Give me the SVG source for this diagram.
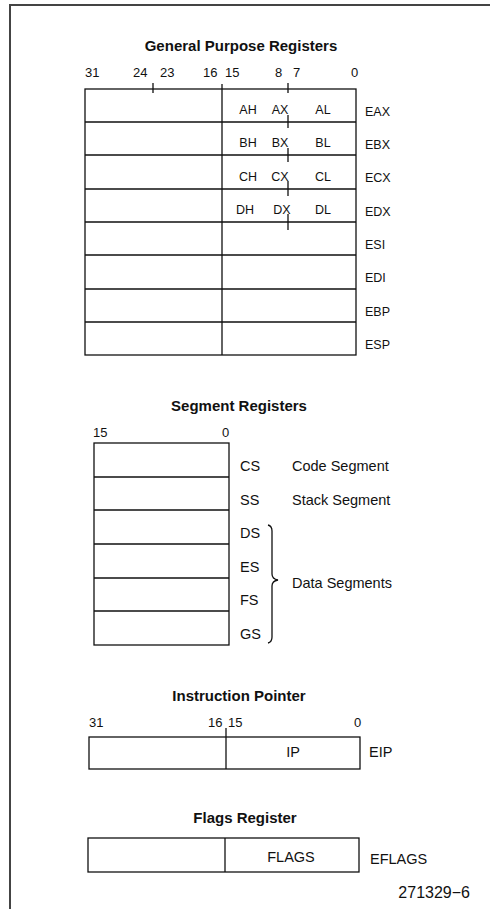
<svg xmlns="http://www.w3.org/2000/svg" width="490" height="909" viewBox="0 0 490 909">
<style>
text{font-family:"Liberation Sans",Arial,sans-serif;fill:#111}
.t{font-size:15px;font-weight:bold;text-anchor:middle}
.n{font-size:13px}
.l{font-size:12.5px}
.s{font-size:14.5px}
.m{text-anchor:middle}
.b{fill:#fff;stroke:#111;stroke-width:1.3}
.ln{stroke:#111;stroke-width:1.3;fill:none}
</style>
<rect x="0" y="0" width="490" height="909" fill="#fff"/>
<path d="M10,909 V5 H490" fill="none" stroke="#444" stroke-width="2"/>

<g id="gpr">
<text class="t" x="241" y="51">General Purpose Registers</text>
<text class="n" x="85" y="77">31</text>
<text class="n" x="133" y="77">24</text>
<text class="n" x="160" y="77">23</text>
<text class="n" x="203" y="77">16</text>
<text class="n" x="225" y="77">15</text>
<text class="n" x="275" y="77">8</text>
<text class="n" x="293" y="77">7</text>
<text class="n" x="351" y="77">0</text>
<rect class="b" x="85" y="89" width="271" height="266"/>
<path class="ln" d="M85,122H356M85,155H356M85,189H356M85,222H356M85,255H356M85,289H356M85,322H356"/>
<path class="ln" d="M222,84V355M153,83V93M288,83V93M288,115V128M288,148V162M288,181V196M288,214V230"/>
<text class="l m" x="248" y="114">AH</text><text class="l m" x="280" y="114">AX</text><text class="l m" x="323" y="114">AL</text>
<text class="l m" x="248" y="147">BH</text><text class="l m" x="280" y="147">BX</text><text class="l m" x="323" y="147">BL</text>
<text class="l m" x="248" y="180.5">CH</text><text class="l m" x="280" y="180.5">CX</text><text class="l m" x="323" y="180.5">CL</text>
<text class="l m" x="245" y="214">DH</text><text class="l m" x="282" y="214">DX</text><text class="l m" x="323" y="214">DL</text>
<text class="l" x="365" y="116">EAX</text>
<text class="l" x="365" y="149">EBX</text>
<text class="l" x="365" y="182">ECX</text>
<text class="l" x="365" y="215.5">EDX</text>
<text class="l" x="365" y="248.5">ESI</text>
<text class="l" x="365" y="282">EDI</text>
<text class="l" x="365" y="315.5">EBP</text>
<text class="l" x="365" y="348.5">ESP</text>
</g>

<g id="seg">
<text class="t" x="239" y="411">Segment Registers</text>
<text class="n" x="93" y="437">15</text>
<text class="n" x="222" y="437">0</text>
<rect class="b" x="94" y="443" width="135" height="202"/>
<path class="ln" d="M94,477H229M94,510H229M94,544H229M94,578H229M94,611H229"/>
<text class="s" x="240" y="471">CS</text>
<text class="s" x="240" y="505">SS</text>
<text class="s" x="240" y="538">DS</text>
<text class="s" x="240" y="572">ES</text>
<text class="s" x="240" y="605">FS</text>
<text class="s" x="240" y="639">GS</text>
<text class="s" x="292" y="471">Code Segment</text>
<text class="s" x="292" y="505">Stack Segment</text>
<text class="s" x="292" y="588">Data Segments</text>
</g>
<g id="connectors">
<path class="ln" d="M268,525Q272,526 272,531L272,574Q272,579 278,580Q272,581 272,586L272,637Q272,642 268,643"/>
</g>

<g id="eip">
<text class="t" x="239" y="701">Instruction Pointer</text>
<text class="n" x="89" y="727">31</text>
<text class="n" x="208" y="727">16</text>
<text class="n" x="228" y="727">15</text>
<text class="n" x="354" y="727">0</text>
<rect class="b" x="89" y="737" width="271" height="32"/>
<path class="ln" d="M226,728V769"/>
<text class="s m" x="293" y="757">IP</text>
<text class="s" x="369" y="757">EIP</text>
</g>

<g id="eflags">
<text class="t" x="245" y="823">Flags Register</text>
<rect class="b" x="88" y="838" width="271" height="34"/>
<path class="ln" d="M225,838V872"/>
<text class="s m" x="291" y="862">FLAGS</text>
<text class="s" x="370" y="864">EFLAGS</text>
<text x="470" y="898" text-anchor="end" font-size="16">271329−6</text>
</g>
</svg>
